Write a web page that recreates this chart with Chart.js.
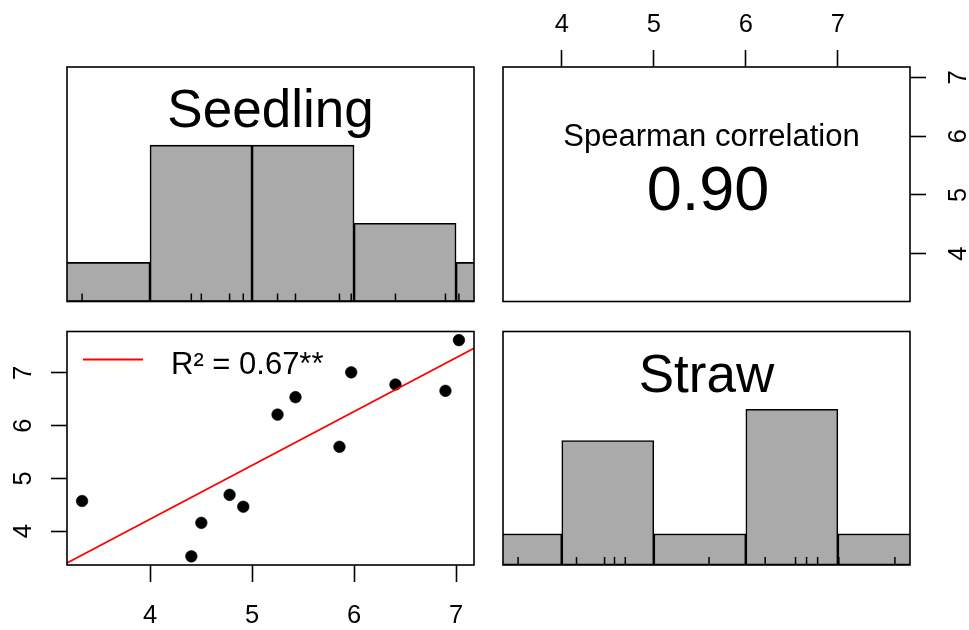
<!DOCTYPE html>
<html><head><meta charset="utf-8">
<script src="https://cdn.jsdelivr.net/npm/chart.js@4.4.1/dist/chart.umd.min.js"></script>
<style>
html,body{margin:0;padding:0;background:#fff;}
#wrap{position:relative;width:969px;height:630px;overflow:hidden;background:#fff;}
canvas{position:absolute;left:0;top:0;}
</style></head><body>
<div id="wrap">
<canvas id="cTL" width="969" height="630"></canvas>
<canvas id="cTR" width="969" height="630"></canvas>
<canvas id="cBL" width="969" height="630"></canvas>
<canvas id="cBR" width="969" height="630"></canvas>
</div>
<script>
// ---- data ----
const varNames = ['Seedling', 'Straw'];
const seedling = [3.334, 4.405, 4.503, 4.78, 4.914, 5.25, 5.426, 5.857, 5.972, 6.406, 6.896, 7.028];
const straw    = [4.573, 3.525, 4.16, 4.69, 4.465, 6.21, 6.54, 5.60, 7.01, 6.78, 6.66, 7.62];
const binEdges = [3, 4, 5, 6, 7, 8];
const seedlingCounts = [1, 4, 4, 2, 1];
const strawCounts = [1, 4, 1, 5, 1];
const tickValues = [4, 5, 6, 7];
const tickLabels = ['4', '5', '6', '7'];
const spearmanLabel = 'Spearman correlation';
const spearmanValue = '0.90';
const r2Label = 'R\u00B2 = 0.67**';

// ---- helpers ----
const FONT = "'Liberation Sans', Arial, Helvetica, sans-serif";
Chart.defaults.font.family = FONT;
Chart.defaults.color = '#000';
Chart.defaults.animation = false;

function extendRange(arr) {
  const mn = Math.min(...arr), mx = Math.max(...arr), p = (mx - mn) * 0.04;
  return [mn - p, mx + p];
}
const sdRange = extendRange(seedling);
const stRange = extendRange(straw);

function histData(counts) {
  const m = Math.max(...counts);
  return counts.map((c, i) => ({ x: (binEdges[i] + binEdges[i + 1]) / 2, y: c / m }));
}

// least squares fit of straw on seedling
const n = seedling.length;
const mx = seedling.reduce((a, b) => a + b, 0) / n;
const my = straw.reduce((a, b) => a + b, 0) / n;
let sxy = 0, sxx = 0;
for (let i = 0; i < n; i++) { sxy += (seedling[i] - mx) * (straw[i] - my); sxx += (seedling[i] - mx) ** 2; }
const slope = sxy / sxx, intercept = my - slope * mx;
const fitLine = sdRange.map(x => ({ x, y: intercept + slope * x }));

function setTicks(scale) { scale.ticks = tickValues.map(v => ({ value: v })); }
function setBinTicks(scale) { scale.ticks = binEdges.map(v => ({ value: v })); }
function tickCb(v) { const i = tickValues.indexOf(v); return i >= 0 ? tickLabels[i] : ''; }

const boxPlugin = {
  id: 'box',
  afterDraw(chart) {
    const a = chart.chartArea, c = chart.ctx;
    c.save(); c.strokeStyle = '#000'; c.lineWidth = 1.6;
    c.strokeRect(a.left, a.top, a.right - a.left, a.bottom - a.top);
    c.restore();
  }
};
function rugPlugin(values) {
  return {
    id: 'rug',
    afterDatasetsDraw(chart) {
      const a = chart.chartArea, xs = chart.scales.x, c = chart.ctx;
      c.save(); c.strokeStyle = '#000'; c.lineWidth = 1.5; c.beginPath();
      values.forEach(v => { const px = xs.getPixelForValue(v); c.moveTo(px, a.bottom); c.lineTo(px, a.bottom - 8); });
      c.stroke(); c.restore();
    }
  };
}
function nameTextPlugin(text) {
  return {
    id: 'nametext',
    afterDatasetsDraw(chart) {
      const a = chart.chartArea, c = chart.ctx;
      c.save(); c.font = '53px ' + FONT; c.fillStyle = '#000'; c.textAlign = 'center'; c.textBaseline = 'alphabetic';
      c.fillText(text, (a.left + a.right) / 2, a.top + 60);
      c.restore();
    }
  };
}
const corrPlugin = {
  id: 'corr',
  afterDraw(chart) {
    const a = chart.chartArea, c = chart.ctx, cx = (a.left + a.right) / 2;
    c.save(); c.fillStyle = '#000'; c.textAlign = 'center'; c.textBaseline = 'alphabetic';
    c.font = '31px ' + FONT; c.fillText(spearmanLabel, cx + 5, a.top + 79);
    c.font = '63px ' + FONT; c.fillText(spearmanValue, cx + 1.5, a.top + 143);
    c.restore();
  }
};
const legendPlugin = {
  id: 'lgd',
  afterDraw(chart) {
    const a = chart.chartArea, c = chart.ctx;
    c.save(); c.strokeStyle = '#FF0000'; c.lineWidth = 1.8;
    c.beginPath(); c.moveTo(a.left + 16, a.top + 28); c.lineTo(a.left + 76, a.top + 28); c.stroke();
    c.fillStyle = '#000'; c.font = '31px ' + FONT; c.textAlign = 'left'; c.textBaseline = 'alphabetic';
    c.fillText(r2Label, a.left + 104, a.top + 42);
    c.restore();
  }
};

function hAxis(pos, range, h, pad) {
  return {
    type: 'linear', position: pos, min: range[0], max: range[1],
    afterBuildTicks: setTicks, afterFit: s => { s.height = h; },
    grid: { display: true, drawOnChartArea: false, drawTicks: true, tickLength: 17, tickColor: '#000', tickWidth: 1.6 },
    border: { display: false },
    ticks: { color: '#000', font: { size: 25.5, family: FONT }, padding: pad, minRotation: 0, maxRotation: 0, autoSkip: false, callback: tickCb }
  };
}
function vAxis(pos, range, w, pad) {
  return {
    type: 'linear', position: pos, min: range[0], max: range[1],
    afterBuildTicks: setTicks, afterFit: s => { s.width = w; },
    grid: { display: true, drawOnChartArea: false, drawTicks: true, tickLength: 16, tickColor: '#000', tickWidth: 1.6 },
    border: { display: false },
    ticks: { color: '#000', font: { size: 25.5, family: FONT }, padding: pad, minRotation: 90, maxRotation: 90, crossAlign: 'center', autoSkip: false, callback: tickCb }
  };
}
const baseOpts = { responsive: false, animation: false, events: [], plugins: { legend: { display: false }, tooltip: { enabled: false } } };

function histChart(id, counts, values, range, name, pad) {
  new Chart(document.getElementById(id), {
    type: 'bar',
    data: { datasets: [{ data: histData(counts), backgroundColor: '#AAAAAA', borderColor: '#000', borderWidth: 1.6, borderSkipped: false, barPercentage: 1, categoryPercentage: 1, clip: 0 }] },
    options: Object.assign({}, baseOpts, {
      layout: { padding: pad },
      scales: {
        x: { type: 'linear', min: range[0], max: range[1], display: false, offset: false, afterBuildTicks: setBinTicks },
        y: { type: 'linear', min: 0, max: 1.5, display: false }
      }
    }),
    plugins: [rugPlugin(values), nameTextPlugin(name), boxPlugin]
  });
}

// top-left: Seedling histogram
histChart('cTL', seedlingCounts, seedling, sdRange, varNames[0], { left: 67, top: 67, right: 495, bottom: 328.5 });
// bottom-right: Straw histogram
histChart('cBR', strawCounts, straw, stRange, varNames[1], { left: 503, top: 331.5, right: 59, bottom: 65 });

// top-right: correlation text panel with top and right axes
new Chart(document.getElementById('cTR'), {
  type: 'scatter',
  data: { datasets: [{ data: [] }] },
  options: Object.assign({}, baseOpts, {
    layout: { padding: { left: 503, top: 0, right: 0, bottom: 328.5 } },
    scales: { x: hAxis('top', stRange, 67, 10), y: vAxis('right', sdRange, 59, 26) }
  }),
  plugins: [boxPlugin, corrPlugin]
});

// bottom-left: scatter with regression line
new Chart(document.getElementById('cBL'), {
  type: 'scatter',
  data: {
    datasets: [
      { type: 'line', data: fitLine, borderColor: '#FF0000', borderWidth: 1.8, pointRadius: 0, fill: false, tension: 0, clip: 0 },
      { data: seedling.map((x, i) => ({ x, y: straw[i] })), backgroundColor: '#000', borderColor: '#000', pointRadius: 5.8, borderWidth: 0.6 }
    ]
  },
  options: Object.assign({}, baseOpts, {
    layout: { padding: { left: 0, top: 331.5, right: 495, bottom: 0 } },
    scales: { x: hAxis('bottom', sdRange, 65, 19), y: vAxis('left', stRange, 67, 20) }
  }),
  plugins: [boxPlugin, legendPlugin]
});
</script>
</body></html>
